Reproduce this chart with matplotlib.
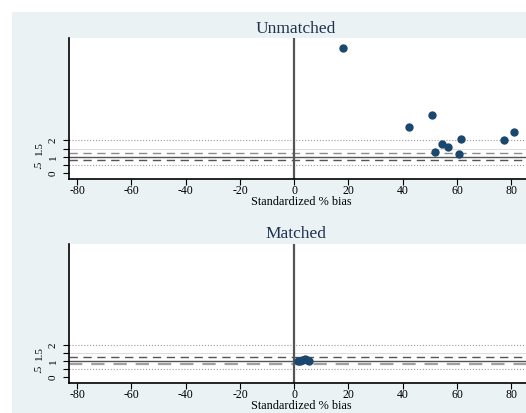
import matplotlib
matplotlib.use('Agg')
import matplotlib.pyplot as plt
from matplotlib.patches import Rectangle
from matplotlib.transforms import offset_copy

# standardized % bias vs variance ratio
unmatched_bias = [17.8, 42.3, 50.6, 51.9, 54.3, 56.7, 61.4, 60.8, 77.2, 81.0]
unmatched_vr = [7.63, 2.81, 3.54, 1.29, 1.79, 1.57, 2.10, 1.14, 2.02, 2.51]

matched_bias = [1.3, 2.2, 3.0, 3.8, 4.6, 5.5]
matched_vr = [1.00, 0.98, 1.05, 1.10, 1.07, 1.00]

xticks = [-80, -60, -40, -20, 0, 20, 40, 60, 80]
yticks = [0, 0.5, 1, 1.5, 2]
ytick_labels = ['0', '.5', '1', '1.5', '2']

# reference lines: (level, style, colour, width)
unmatched_lines = [(2.0, ':', '#9a9a9a', 0.8), (0.5, ':', '#9a9a9a', 0.8),
                   (1.5, '-', '#dcdcdc', 0.7),
                   (1.25, (0, (6, 4)), '#8c8c8c', 1.0), (0.8, (0, (6, 4)), '#555555', 1.0),
                   (1.0, '-', '#555555', 1.0)]
matched_lines = [(2.0, ':', '#9a9a9a', 0.8), (0.5, ':', '#9a9a9a', 0.8),
                 (1.5, '-', '#dcdcdc', 0.7),
                 (1.25, (0, (6, 4)), '#555555', 1.0), (0.8, (0, (6, 4)), '#a0a0a0', 1.6),
                 (1.0, '-', '#555555', 1.0)]

BG = '#eaf2f3'
NAVY = '#1a476f'
SERIF = 'Liberation Serif'


def panel(fig, rect, title, title_y, bias, vr, lines):
    ax = fig.add_axes(rect)
    ax.set_facecolor('white')
    for lvl, ls, col, lw in lines:
        ax.axhline(lvl, ls=ls, color=col, lw=lw, zorder=1)
    ax.axvline(0, color='#555555', lw=1.6, zorder=2)
    ax.plot(bias, vr, 'o', color=NAVY, ms=5, mec=NAVY, zorder=3, clip_on=False)
    ax.set_xlim(-83, 88)
    ax.set_ylim(-0.36, 8.24)
    ax.set_xticks(xticks)
    ax.set_xticklabels([str(t) for t in xticks], family=SERIF, fontsize=8.5)
    ax.set_yticks(yticks)
    ax.set_yticklabels([])
    # staggered rotated y labels, like the original
    for i, (v, lab) in enumerate(zip(yticks, ytick_labels)):
        dx = -16 if i % 2 == 0 else -30
        tr = offset_copy(ax.get_yaxis_transform(), fig=fig, x=dx, y=0, units='dots')
        ax.text(0, v, lab, transform=tr, family=SERIF, fontsize=8, rotation=90,
                ha='center', va='center')
    ax.tick_params(direction='out', length=4, width=0.8, pad=0.5, colors='black')
    for s in ['top', 'right']:
        ax.spines[s].set_visible(False)
    for s in ['left', 'bottom']:
        ax.spines[s].set_linewidth(1.2)
    ax.set_xlabel('Standardized % bias', family=SERIF, fontsize=8.8, labelpad=-1)
    fig.text(296 / 526, 1 - title_y / 413, title, family=SERIF, fontsize=12.5,
             color='#1e3250', ha='center', va='center')
    return ax


def main():
    fig = plt.figure(figsize=(5.26, 4.13), dpi=100)
    fig.patch.set_facecolor('white')
    fig.patches.append(Rectangle((12 / 526, 0), 1, 1 - 12 / 413, transform=fig.transFigure,
                                 facecolor=BG, edgecolor='none', zorder=-5))

    w = (533 - 69) / 526
    panel(fig, [69 / 526, 234 / 413, w, 141 / 413], 'Unmatched', 29,
          unmatched_bias, unmatched_vr, unmatched_lines)
    panel(fig, [69 / 526, 30 / 413, w, 139 / 413], 'Matched', 234,
          matched_bias, matched_vr, matched_lines)

    fig.savefig('out.png', dpi=100, facecolor=fig.get_facecolor())


if __name__ == '__main__':
    main()
